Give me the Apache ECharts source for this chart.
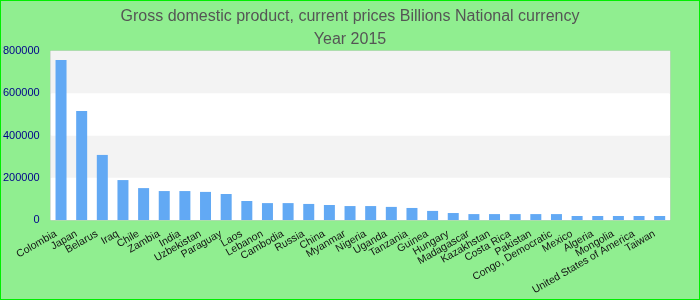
<!DOCTYPE html>
<html><head><meta charset="utf-8">
<script src="https://cdn.jsdelivr.net/npm/echarts@6/dist/echarts.min.js"></script>
<style>html,body{margin:0;padding:0;}#c{width:700px;height:300px;}</style>
</head><body><div id="c"></div>
<script>
const categories = ["Colombia","Japan","Belarus","Iraq","Chile","Zambia","India","Uzbekistan","Paraguay","Laos","Lebanon","Cambodia","Russia","China","Myanmar","Nigeria","Uganda","Tanzania","Guinea","Hungary","Madagascar","Kazakhstan","Costa Rica","Pakistan","Congo, Democratic","Mexico","Algeria","Mongolia","United States of America","Taiwan"];
const values = [757000,516000,308000,189000,151000,137000,137000,133000,123000,90000,80000,80000,76000,71000,66000,66000,62000,57000,43000,33000,28000,28000,28000,28000,28000,19000,19000,19000,19000,19000];
const titleLines = ["Gross domestic product, current prices Billions National currency","Year 2015"];
const yTicks = [0,200000,400000,600000,800000];

const chart = echarts.init(document.getElementById('c'), null, {renderer:'canvas'});
chart.setOption({
  backgroundColor: '#90ee90',
  animation: false,
  title: {
    text: titleLines.join('\n'),
    left: 'center', top: 0,
    textStyle: {fontFamily: 'Liberation Sans', fontSize: 16, fontWeight: 'normal', color: '#555', lineHeight: 23}
  },
  grid: {left: 50, right: 30, top: 51, bottom: 80, show: true, borderColor: '#ccc', borderWidth: 1, backgroundColor: '#fff'},
  xAxis: {
    type: 'category', data: categories,
    axisLine: {show: false}, axisTick: {show: false},
    axisLabel: {interval: 0, rotate: 30, fontFamily: 'Liberation Sans', fontSize: 10.5, color: '#111', margin: 10, padding: [0, 6, 0, 0]}
  },
  yAxis: {
    type: 'value', min: yTicks[0], max: yTicks[yTicks.length-1], interval: 200000,
    axisLine: {show: false}, axisTick: {show: false},
    splitLine: {show: false},
    splitArea: {show: true, areaStyle: {color: ['#ffffff', '#f3f3f3']}},
    axisLabel: {fontFamily: 'Liberation Sans', fontSize: 11, color: '#00008b', margin: 11, formatter: function (v) { return String(v); }}
  },
  series: [{type: 'bar', data: values, barWidth: 11, itemStyle: {color: '#62a9f4'}}]
});
</script>
<div style="position:absolute;left:0;top:0;width:698px;height:298px;border:1px solid #00ee00;pointer-events:none;"></div>
</body></html>
